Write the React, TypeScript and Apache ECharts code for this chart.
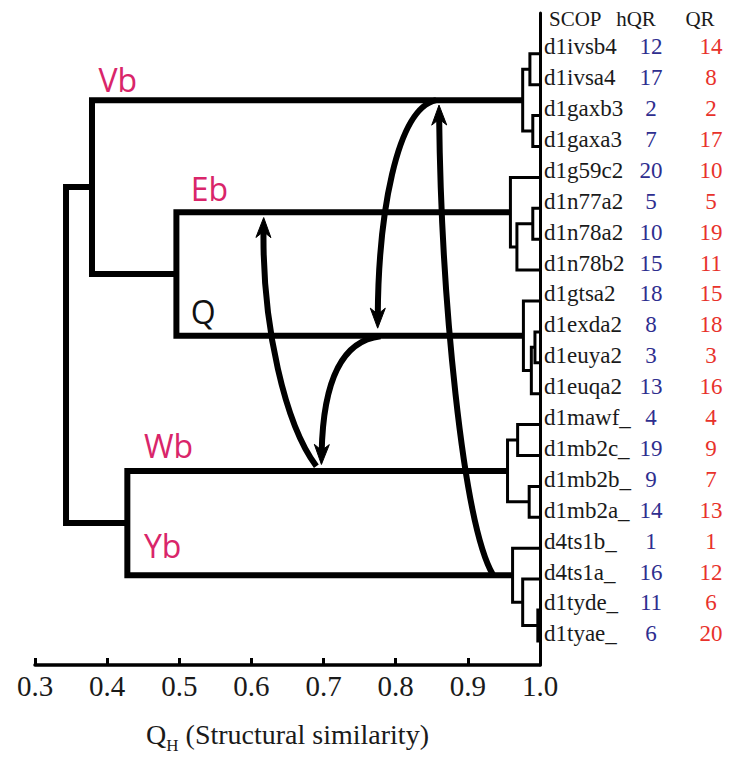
import React, { useEffect, useRef } from "react";
import * as echarts from "echarts";

// ---------- data ----------
const leaves = [
  "d1ivsb4", "d1ivsa4", "d1gaxb3", "d1gaxa3", "d1g59c2", "d1n77a2", "d1n78a2", "d1n78b2",
  "d1gtsa2", "d1exda2", "d1euya2", "d1euqa2", "d1mawf_", "d1mb2c_", "d1mb2b_", "d1mb2a_",
  "d4ts1b_", "d4ts1a_", "d1tyde_", "d1tyae_",
];
const hQR = [12, 17, 2, 7, 20, 5, 10, 15, 18, 8, 3, 13, 4, 19, 9, 14, 1, 16, 11, 6];
const QR = [14, 8, 2, 17, 10, 5, 19, 11, 15, 18, 3, 16, 4, 9, 7, 13, 1, 12, 6, 20];
const headers = ["SCOP", "hQR", "QR"];

// merges: [child A, child B, Q_H height]; nodes 0..19 are leaves, 20+ are merges in order
const mergeA = [0, 2, 20, 5, 23, 4, 9, 26, 8, 25, 22, 12, 14, 31, 18, 17, 16, 33, 30];
const mergeB = [1, 3, 21, 6, 7, 24, 10, 11, 27, 28, 29, 13, 15, 32, 19, 34, 35, 36, 37];
const mergeH = [0.986, 0.990, 0.976, 0.990, 0.968, 0.959, 0.993, 0.988, 0.977, 0.496, 0.379,
  0.969, 0.985, 0.955, 0.997, 0.976, 0.962, 0.428, 0.343];

const xTicks = [0.3, 0.4, 0.5, 0.6, 0.7, 0.8, 0.9, 1.0];

// cluster labels (data coords: Q_H, row)
const clusterNames = ["Vb", "Eb", "Q", "Wb", "Yb"];
const clusterX = [0.388, 0.516, 0.516, 0.451, 0.451];
const clusterY = [0.83, 4.35, 8.34, 12.68, 15.91];
const clusterColors = ["#d9256a", "#d9256a", "#111111", "#d9256a", "#d9256a"];

// arrows: cubic Bezier in data coords [x0,y0, cx1,cy1, cx2,cy2, x3,y3], head at the end
const arrowWbEb = [0.69, 13.35, 0.647, 12.01, 0.615, 8.82, 0.617, 5.3];
const arrowVbQ = [0.856, 1.5, 0.8, 1.79, 0.776, 5.3, 0.775, 8.88];
const arrowQWb = [0.779, 9.14, 0.717, 9.3, 0.699, 11.05, 0.697, 13.29];
const arrowYbVb = [0.935, 16.87, 0.893, 15.21, 0.863, 7.86, 0.86, 1.66];
const arrows = [arrowWbEb, arrowVbQ, arrowQWb, arrowYbVb];

const HEADER_ROW = -1.32;

export default function App() {
  const ref = useRef<HTMLDivElement>(null);
  useEffect(() => {
    if (!ref.current) return;
    const chart = echarts.init(ref.current, null, { renderer: "svg" });

    const nodeX: number[] = leaves.map(() => 1.0);
    const nodeY: number[] = leaves.map((_, i) => i);
    mergeA.forEach((a, k) => {
      const b = mergeB[k];
      nodeX.push(mergeH[k]);
      nodeY.push((nodeY[a] + nodeY[b]) / 2);
    });
    const treeData = mergeA.map((a, k) => {
      const b = mergeB[k];
      return [nodeX[a], nodeY[a], mergeH[k], nodeX[b], nodeY[b]];
    });

    const serif = '"Liberation Serif", "Times New Roman", serif';
    const sans = '"Open Sans", "Noto Sans", sans-serif';

    chart.setOption({
      animation: false,
      grid: { left: 35, right: 200, top: 13, bottom: 86 },
      xAxis: {
        type: "value",
        min: 0.3,
        max: 1.0,
        interval: 0.1,
        position: "bottom",
        axisLine: { show: true, onZero: false, lineStyle: { color: "#000", width: 3.5 } },
        axisTick: { show: true, inside: true, length: 7, lineStyle: { color: "#000", width: 3 } },
        axisLabel: {
          margin: 6,
          fontSize: 29,
          fontFamily: serif,
          color: "#1a1a1a",
          formatter: (v: number) => {
            const t = xTicks.find((x) => Math.abs(x - v) < 1e-6);
            return t !== undefined ? t.toFixed(1) : "";
          },
        },
        splitLine: { show: false },
        name: "{q|Q}{s|H}{t| (Structural similarity)}",
        nameLocation: "middle",
        nameGap: 55,
        nameTextStyle: {
          rich: {
            q: { fontSize: 28, fontFamily: serif, color: "#1a1a1a", verticalAlign: "bottom", padding: [0, 0, 6, 0] },
            s: { fontSize: 17, fontFamily: serif, color: "#1a1a1a", verticalAlign: "bottom" },
            t: { fontSize: 28, fontFamily: serif, color: "#1a1a1a", verticalAlign: "bottom", padding: [0, 0, 6, 0] },
          },
        },
      },
      yAxis: {
        type: "value",
        min: HEADER_ROW,
        max: 19.78,
        inverse: true,
        position: "right",
        axisLine: { show: true, onZero: false, lineStyle: { color: "#000", width: 3 } },
        axisTick: { show: false },
        axisLabel: { show: false },
        splitLine: { show: false },
      },
      series: [
        {
          type: "custom",
          name: "tree",
          clip: false,
          data: treeData,
          encode: { x: [0, 2, 3], y: [1, 4] },
          renderItem: (params: any, api: any) => {
            const ax = api.value(0), ay = api.value(1), h = api.value(2), bx = api.value(3), by = api.value(4);
            const p1 = api.coord([ax, ay]);
            const p2 = api.coord([h, ay]);
            const p3 = api.coord([h, by]);
            const p4 = api.coord([bx, by]);
            const w = h < 0.9 ? 6 : 3;
            return {
              type: "polyline",
              shape: { points: [p1, p2, p3, p4] },
              style: { stroke: "#000", lineWidth: w, fill: null, lineJoin: "miter", lineCap: "butt" },
            };
          },
          z: 2,
        },
        {
          type: "custom",
          name: "arrows",
          clip: false,
          data: arrows,
          encode: { x: [0, 2, 4, 6], y: [1, 3, 5, 7] },
          renderItem: (params: any, api: any) => {
            const P0 = api.coord([api.value(0), api.value(1)]);
            const P1 = api.coord([api.value(2), api.value(3)]);
            const P2 = api.coord([api.value(4), api.value(5)]);
            const P3 = api.coord([api.value(6), api.value(7)]);
            let dx = P3[0] - P2[0], dy = P3[1] - P2[1];
            const len = Math.hypot(dx, dy) || 1;
            dx /= len; dy /= len;
            const nx = -dy, ny = dx;
            const headLen = 20, headHalf = 7.5, notch = 14;
            const endX = P3[0] - dx * 12, endY = P3[1] - dy * 12;
            const base = [P3[0] - dx * headLen, P3[1] - dy * headLen];
            const notchP = [P3[0] - dx * notch, P3[1] - dy * notch];
            return {
              type: "group",
              children: [
                {
                  type: "bezierCurve",
                  shape: { x1: P0[0], y1: P0[1], cpx1: P1[0], cpy1: P1[1], cpx2: P2[0], cpy2: P2[1], x2: endX, y2: endY },
                  style: { stroke: "#000", lineWidth: 6, fill: null },
                },
                {
                  type: "polygon",
                  shape: {
                    points: [
                      [P3[0], P3[1]],
                      [base[0] + nx * headHalf, base[1] + ny * headHalf],
                      notchP,
                      [base[0] - nx * headHalf, base[1] - ny * headHalf],
                    ],
                  },
                  style: { fill: "#000", stroke: "#000", lineWidth: 1 },
                },
              ],
            };
          },
          z: 3,
        },
        {
          type: "custom",
          name: "leafLabels",
          clip: false,
          data: leaves.map((_, i) => [1.0, i]),
          renderItem: (params: any, api: any) => {
            const i = params.dataIndex;
            const p = api.coord([api.value(0), api.value(1)]);
            const y = p[1] - 7;
            return {
              type: "group",
              children: [
                {
                  type: "text",
                  style: { text: leaves[i], x: p[0] + 4, y, fill: "#1a1a1a", fontSize: 23, fontFamily: serif, align: "left", verticalAlign: "middle" },
                },
                {
                  type: "text",
                  style: { text: String(hQR[i]), x: p[0] + 111, y, fill: "#2e2e8f", fontSize: 23, fontFamily: serif, align: "center", verticalAlign: "middle" },
                },
                {
                  type: "text",
                  style: { text: String(QR[i]), x: p[0] + 171, y, fill: "#e8322b", fontSize: 23, fontFamily: serif, align: "center", verticalAlign: "middle" },
                },
              ],
            };
          },
          z: 4,
        },
        {
          type: "custom",
          name: "header",
          clip: false,
          data: [[1.0, HEADER_ROW]],
          renderItem: (params: any, api: any) => {
            const p = api.coord([api.value(0), api.value(1)]);
            const y = p[1] + 6;
            const xs = [p[0] + 9, p[0] + 96, p[0] + 160];
            const aligns = ["left", "center", "center"];
            return {
              type: "group",
              children: headers.map((h, k) => ({
                type: "text",
                style: { text: h, x: xs[k], y, fill: "#1a1a1a", fontSize: 21, fontFamily: serif, align: aligns[k], verticalAlign: "middle" },
              })),
            };
          },
          z: 4,
        },
        {
          type: "custom",
          name: "clusters",
          clip: false,
          data: clusterNames.map((_, k) => [clusterX[k], clusterY[k]]),
          renderItem: (params: any, api: any) => {
            const k = params.dataIndex;
            const p = api.coord([api.value(0), api.value(1)]);
            return {
              type: "text",
              style: { text: clusterNames[k], x: p[0], y: p[1], fill: clusterColors[k], fontSize: 32, fontFamily: sans, align: "left", verticalAlign: "middle" },
            };
          },
          z: 4,
        },
      ],
    });
    return () => chart.dispose();
  }, []);
  return <div ref={ref} style={{ position: "fixed", left: 0, top: 0, width: 740, height: 759, background: "#fff" }} />;
}
